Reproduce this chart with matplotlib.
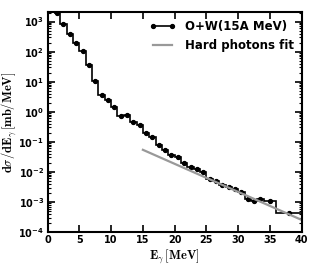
import numpy as np
import matplotlib
matplotlib.use("Agg")
import matplotlib.pyplot as plt

plt.rcParams['mathtext.fontset'] = 'cm'
plt.rcParams['font.weight'] = 'bold'

# bin edges [MeV] and measured cross section [mb/MeV]
edges = [1, 2, 3, 4, 5, 6, 7, 8, 9, 10, 11, 12, 13, 14, 15, 16, 17, 18, 19, 20,
         21, 22, 23, 24, 25, 26, 27, 28, 29, 30, 31, 32, 33, 34, 36, 40]
dsigma = [1900, 810, 380, 200, 105, 35, 10.5, 3.6, 2.5, 1.4,
          0.72, 0.76, 0.44, 0.36, 0.19, 0.14, 0.08, 0.052, 0.036, 0.03,
          0.019, 0.015, 0.012, 0.0095, 0.0056, 0.0048, 0.0037, 0.0031, 0.0027, 0.0021,
          0.0012, 0.0011, 0.0012, 0.00108, 0.00044]

# hard photons exponential fit (end points)
fit_e = [15, 40]
fit_y = [0.054, 0.00025]

edges = np.array(edges, dtype=float)
centers = 0.5 * (edges[:-1] + edges[1:])

fig = plt.figure(figsize=(3.15, 2.7), dpi=100)
ax = fig.add_axes([0.151, 0.141, 0.807, 0.815])

ax.stairs(dsigma, edges, color='black', lw=1.2, baseline=None)
ax.plot(centers, dsigma, 'o', color='black', ms=2.8)
ax.plot([], [], '-o', color='black', ms=2.8, lw=1.2, label='O+W(15A MeV)')
ax.plot(fit_e, fit_y, color='#999999', lw=1.6, label='Hard photons fit')

ax.set_yscale('log')
ax.set_xlim(0, 40)
ax.set_ylim(1e-4, 2100)
ax.set_xticks(range(0, 41, 5))

ax.tick_params(which='both', direction='in', top=True, right=True, labelsize=7)
ax.tick_params(which='major', length=5, width=1.2, pad=2.5)
ax.tick_params(which='minor', length=2.5, width=0.8)
for s in ax.spines.values():
    s.set_linewidth(1.5)
for lab in ax.get_xticklabels() + ax.get_yticklabels():
    lab.set_fontweight('bold')

ax.set_xlabel(r'$\mathbf{E}_\gamma\,\mathbf{[MeV]}$', fontsize=9, labelpad=1)
ax.set_ylabel(r'$\mathbf{d}\sigma/\mathbf{dE}_\gamma\,\mathbf{[mb/MeV]}$', fontsize=9, labelpad=0)

leg = ax.legend(loc='upper right', frameon=False, numpoints=2, handlelength=2.2,
                prop={'size': 8.5, 'weight': 'bold'}, borderaxespad=0.3,
                labelspacing=0.5)

fig.savefig('out.png', dpi=100)
